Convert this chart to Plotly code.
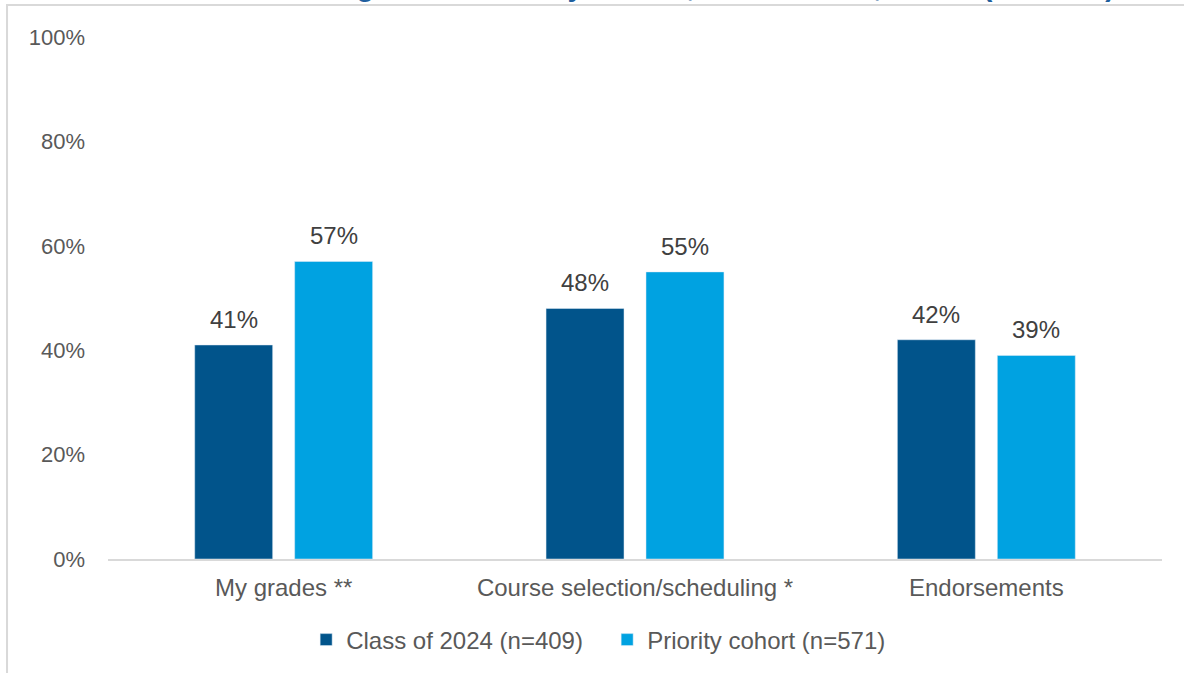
import plotly.graph_objects as go

categories = ["My grades **", "Course selection/scheduling *", "Endorsements"]
class_2024 = [41, 48, 42]
priority = [57, 55, 39]
series_names = ["Class of 2024 (n=409)", "Priority cohort (n=571)"]
y_ticks = [0, 20, 40, 60, 80, 100]
title_text = "Usefulness According to Students by Cohort, Grades 9–11, Year 2 (2021–22)"

DARK = "#01548B"
LIGHT = "#00A2E1"
FONT = "Arial, Liberation Sans, sans-serif"

fig = go.Figure()
fig.add_trace(go.Bar(x=categories, y=class_2024, name=series_names[0], marker_color=DARK))
fig.add_trace(go.Bar(x=categories, y=priority, name=series_names[1], marker_color=LIGHT))

# data labels
for vals, off in [(class_2024, -0.1423), (priority, 0.1423)]:
    for j, v in enumerate(vals):
        fig.add_annotation(x=j + off, y=v, xref="x", yref="y",
                           text=f"{v}%", showarrow=False, yanchor="bottom", yshift=10,
                           font=dict(family=FONT, size=24, color="#404040"))

fig.add_annotation(x=-0.039, y=1.0631, xref="paper", yref="paper", text=f"<b>{title_text}</b>",
                   showarrow=False, yanchor="bottom", xanchor="left",
                   font=dict(family=FONT, size=29, color="#1F5F9E"))

fig.add_shape(type="rect", xref="paper", yref="paper", x0=-0.0958, x1=1.2, y0=-0.4, y1=1.0612,
              line=dict(color="#D9D9D9", width=2), fillcolor="rgba(0,0,0,0)", layer="below")

fig.update_layout(
    width=1184, height=673,
    margin=dict(l=108, r=22, t=37, b=113),
    paper_bgcolor="white", plot_bgcolor="white",
    barmode="group", bargap=0.431, bargroupgap=0.22,
    font=dict(family=FONT, size=24, color="#595959"),
    showlegend=True,
    legend=dict(orientation="h", x=0.188, xanchor="left", y=-0.153, yanchor="middle",
                font=dict(family=FONT, size=24, color="#595959"), itemwidth=30,
                entrywidth=256, entrywidthmode="pixels", traceorder="normal"),
)
fig.update_xaxes(showline=True, linecolor="#D9D9D9", linewidth=2, showgrid=False,
                 tickfont=dict(family=FONT, size=24, color="#595959"), ticks="", ticklabelstandoff=6)
fig.update_yaxes(range=[0, 100], tickvals=y_ticks, ticktext=[f"{t}%" for t in y_ticks],
                 showgrid=False, zeroline=False, showline=False, ticks="",
                 tickfont=dict(family=FONT, size=22, color="#595959"), ticklabelstandoff=22)

fig.write_html("out.html", config={"displayModeBar": False},
               post_script="document.body.style.margin='0';document.body.style.overflow='hidden';")
